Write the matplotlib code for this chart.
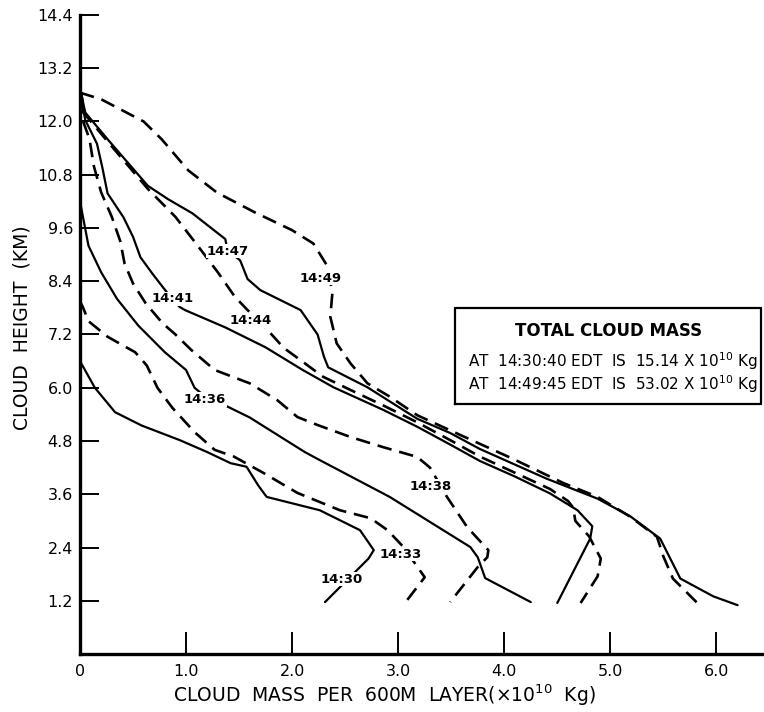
import matplotlib
matplotlib.use("Agg")
import matplotlib.pyplot as plt

plt.rcParams['font.family'] = ['DejaVu Sans']

# ---- data (mass x1e10 kg, height km) ----
m1430 = [0, 0.14, 0.33, 0.58, 0.94, 1.2, 1.42, 1.57, 1.68, 1.76, 2.26, 2.64, 2.77, 2.72, 2.31]
h1430 = [6.6, 6.0, 5.45, 5.15, 4.82, 4.55, 4.3, 4.22, 3.8, 3.54, 3.24, 2.79, 2.34, 2.15, 1.17]

m1433 = [0, 0.03, 0.08, 0.26, 0.52, 0.63, 0.73, 0.87, 1.08, 1.27, 1.45, 1.73, 2.05, 2.45, 2.74, 2.9, 3.05, 3.25, 3.07]
h1433 = [7.95, 7.8, 7.5, 7.15, 6.8, 6.5, 6.0, 5.55, 5.0, 4.6, 4.45, 4.08, 3.63, 3.24, 3.06, 2.79, 2.41, 1.73, 1.17]

m1436 = [0, 0.08, 0.2, 0.35, 0.55, 0.8, 1.0, 1.08, 1.18, 1.37, 1.6, 2.12, 2.26, 2.92, 3.68, 3.75, 3.82, 4.25]
h1436 = [10.2, 9.2, 8.6, 8.0, 7.4, 6.8, 6.4, 6.0, 5.8, 5.6, 5.33, 4.55, 4.37, 3.54, 2.41, 2.18, 1.71, 1.17]

m1438 = [0, 0.03, 0.09, 0.13, 0.2, 0.3, 0.38, 0.42, 0.5, 0.62, 0.78, 0.9, 1.05, 1.27, 1.6, 1.86,
         2.05, 2.24, 2.55, 2.86, 3.18, 3.3, 3.46, 3.65, 3.85, 3.84, 3.75, 3.49]
h1438 = [12.5, 12.0, 11.6, 11.0, 10.4, 9.85, 9.3, 8.8, 8.35, 7.9, 7.45, 7.2, 6.85, 6.4, 6.1, 5.72,
         5.34, 5.16, 4.89, 4.66, 4.44, 4.2, 3.54, 2.86, 2.34, 2.18, 1.96, 1.17]

m1441 = [0, 0.05, 0.16, 0.21, 0.26, 0.41, 0.5, 0.57, 0.68, 0.78, 0.87, 0.94, 0.99, 1.37, 1.75, 2.1,
         2.39, 2.86, 3.18, 3.49, 3.77, 4.1, 4.43, 4.69, 4.83, 4.81, 4.5]
h1441 = [12.65, 12.03, 11.5, 10.97, 10.38, 9.84, 9.4, 8.94, 8.58, 8.27, 8.0, 7.82, 7.75, 7.36, 6.91, 6.4,
         6.01, 5.5, 5.12, 4.72, 4.35, 4.0, 3.62, 3.24, 2.88, 2.6, 1.15]

m1444 = [0, 0.05, 0.26, 0.64, 0.9, 1.11, 1.3, 1.46, 1.58, 1.75, 1.92, 2.12, 2.29, 2.55, 2.86, 3.18,
         3.49, 3.77, 4.43, 4.6, 4.65, 4.67, 4.8, 4.91, 4.88, 4.72]
h1444 = [12.75, 12.15, 11.55, 10.48, 9.85, 9.2, 8.6, 8.05, 7.75, 7.35, 6.9, 6.55, 6.25, 5.95, 5.6, 5.22,
         4.82, 4.45, 3.72, 3.45, 3.3, 3.0, 2.65, 2.15, 1.75, 1.15]

m1447 = [0, 0.05, 0.26, 0.64, 0.83, 1.06, 1.37, 1.39, 1.51, 1.58, 1.7, 2.08, 2.24, 2.3, 2.34, 2.71,
         3.18, 3.49, 3.77, 4.4, 4.88, 5.19, 5.47, 5.54, 5.66, 5.97, 6.2]
h1447 = [12.75, 12.2, 11.6, 10.55, 10.25, 9.93, 9.35, 9.1, 8.87, 8.45, 8.2, 7.75, 7.2, 6.7, 6.46, 6.01,
         5.3, 4.98, 4.62, 3.95, 3.5, 3.1, 2.6, 2.27, 1.7, 1.3, 1.1]

m1449 = [0, 0.2, 0.6, 0.77, 1.02, 1.29, 1.65, 2.0, 2.2, 2.33, 2.38, 2.36, 2.42, 2.55, 2.71, 2.92,
         3.18, 3.6, 4.08, 4.56, 4.88, 5.19, 5.44, 5.5, 5.59, 5.82]
h1449 = [12.65, 12.5, 12.0, 11.6, 10.9, 10.4, 9.95, 9.55, 9.25, 8.75, 8.15, 7.6, 7.0, 6.55, 6.1, 5.8,
         5.38, 4.92, 4.4, 3.85, 3.54, 3.09, 2.64, 2.2, 1.7, 1.15]

curve_names = ['14:30', '14:33', '14:36', '14:38', '14:41', '14:44', '14:47', '14:49']
curve_mass = [m1430, m1433, m1436, m1438, m1441, m1444, m1447, m1449]
curve_height = [h1430, h1433, h1436, h1438, h1441, h1444, h1447, h1449]
curve_dashed = [False, True, False, True, False, True, False, True]

# label anchor positions (data coords)
label_mass = [2.47, 3.02, 1.18, 3.31, 0.87, 1.61, 1.39, 2.27]
label_height = [1.69, 2.25, 5.74, 3.78, 8.0, 7.52, 9.08, 8.47]

x_ticks = [0, 1, 2, 3, 4, 5, 6]
x_tick_labels = ['0', '1.0', '2.0', '3.0', '4.0', '5.0', '6.0']
y_ticks = [1.2, 2.4, 3.6, 4.8, 6.0, 7.2, 8.4, 9.6, 10.8, 12.0, 13.2, 14.4]
y_tick_labels = ['1.2', '2.4', '3.6', '4.8', '6.0', '7.2', '8.4', '9.6', '10.8', '12.0', '13.2', '14.4']

# ---- figure ----
W, H = 764, 712
fig = plt.figure(figsize=(W / 100, H / 100), dpi=100)
ax = fig.add_axes([80 / W, 1 - 654 / H, (762 - 80) / W, (654 - 15) / H])

for m, h, d in zip(curve_mass, curve_height, curve_dashed):
    ls = (0, (5.5, 3.0)) if d else '-'
    ax.plot(m, h, color='black', lw=1.6 if not d else 1.9, ls=ls,
            solid_joinstyle='round', solid_capstyle='round', dash_capstyle='butt', zorder=2)

for name, lm, lh in zip(curve_names, label_mass, label_height):
    ax.text(lm, lh, name, ha='center', va='center', fontsize=9.5, fontweight='bold',
            bbox=dict(facecolor='white', edgecolor='none', pad=0.6), zorder=3)

ax.set_xlim(0, 6.43)
ax.set_ylim(0, 14.4)
ax.set_xticks(x_ticks)
ax.set_xticklabels(x_tick_labels)
ax.set_yticks(y_ticks)
ax.set_yticklabels(y_tick_labels)
ax.tick_params(axis='x', direction='in', length=16, width=1.4, pad=7, labelsize=11.5)
ax.tick_params(axis='y', direction='in', length=14, width=1.4, pad=5, labelsize=11.5)
for s in ['top', 'right']:
    ax.spines[s].set_visible(False)
for s in ['left', 'bottom']:
    ax.spines[s].set_linewidth(2.4)

# legend box
box_l, box_r, box_b, box_t = 3.54, 6.42, 5.63, 7.79
ax.plot([box_l, box_r, box_r, box_l, box_l], [box_b, box_b, box_t, box_t, box_b],
        color='black', lw=1.6, zorder=4, clip_on=False)
ax.text((box_l + box_r) / 2, 7.27, 'TOTAL CLOUD MASS', ha='center', va='center',
        fontsize=12, fontweight='bold')
ax.text(box_l + 0.12, 6.6, 'AT  14:30:40 EDT  IS  15.14 X 10$^{10}$ Kg', ha='left', va='center',
        fontsize=11)
ax.text(box_l + 0.12, 6.07, 'AT  14:49:45 EDT  IS  53.02 X 10$^{10}$ Kg', ha='left', va='center',
        fontsize=11)

fig.text(384 / W, 1 - 695 / H, 'CLOUD  MASS  PER  600M  LAYER(×10$^{10}$  Kg)', ha='center', va='center',
         fontsize=13.5)
fig.text(22 / W, 1 - 328 / H, 'CLOUD  HEIGHT  (KM)', ha='center', va='center', rotation=90,
         fontsize=13.5)

fig.savefig('out.png', dpi=100)
